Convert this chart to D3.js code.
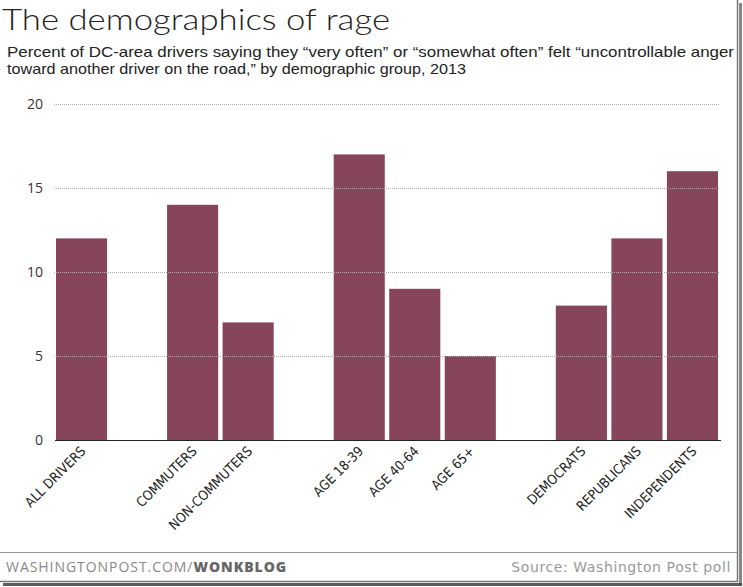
<!DOCTYPE html>
<html>
<head>
<meta charset="utf-8">
<script src="https://cdn.jsdelivr.net/npm/d3@7"></script>
<style>
  body { margin: 0; background: #fff; }
  svg { display: block; }
</style>
</head>
<body>
<svg id="chart"></svg>
<script>
// Chart data
var categories = ["ALL DRIVERS", "", "COMMUTERS", "NON-COMMUTERS", " ", "AGE 18-39", "AGE 40-64", "AGE 65+", "  ", "DEMOCRATS", "REPUBLICANS", "INDEPENDENTS"];
var values = [12, null, 14, 7, null, 17, 9, 5, null, 8, 12, 16];
var yTicks = [0, 5, 10, 15, 20];

var dimensions = {
    width: 743,
    height: 587,
    margin: { top: 104, bottom: 147, left: 56, right: 25 }
};

var svg = d3.select("#chart")
    .attr("width", dimensions.width)
    .attr("height", dimensions.height);

var data = categories.map((c, i) => ({ category: c, value: values[i] }));

var xScale = d3.scaleBand()
    .domain(categories)
    .range([dimensions.margin.left, dimensions.width - dimensions.margin.right])
    .paddingInner(0.08)
    .paddingOuter(0);

var yScale = d3.scaleLinear()
    .domain([0, 20])
    .range([dimensions.height - dimensions.margin.bottom, dimensions.margin.top]);

// Title + subtitle
svg.append("text")
    .attr("x", 2)
    .attr("y", 29.5)
    .attr("font-family", "Lato, 'Open Sans', sans-serif")
    .attr("font-weight", 300)
    .attr("font-size", 29.5)
    .attr("fill", "#222")
    .attr("textLength", 388)
    .attr("lengthAdjust", "spacingAndGlyphs")
    .text("The demographics of rage");

var subtitle = [
    "Percent of DC-area drivers saying they \u201cvery often\u201d or \u201csomewhat often\u201d felt \u201cuncontrollable anger",
    "toward another driver on the road,\u201d by demographic group, 2013"
];
var subLengths = [727, 459];
svg.selectAll(".subtitle")
    .data(subtitle)
    .enter()
    .append("text")
    .attr("class", "subtitle")
    .attr("x", 7)
    .attr("y", (d, i) => 57 + i * 17)
    .attr("font-family", "'Liberation Sans', Arial, sans-serif")
    .attr("font-size", 14.5)
    .attr("fill", "#222")
    .attr("textLength", (d, i) => subLengths[i])
    .attr("lengthAdjust", "spacingAndGlyphs")
    .text(d => d);

// Bars
svg.selectAll(".bar")
    .data(data.filter(d => d.value !== null))
    .enter()
    .append("rect")
    .attr("class", "bar")
    .attr("x", d => xScale(d.category))
    .attr("y", d => yScale(d.value))
    .attr("width", xScale.bandwidth())
    .attr("height", d => yScale(0) - yScale(d.value))
    .attr("fill", "#86455a");

// Gridlines (drawn over bars)
svg.selectAll(".grid")
    .data(yTicks.filter(t => t > 0))
    .enter()
    .append("line")
    .attr("class", "grid")
    .attr("x1", 54)
    .attr("x2", 720)
    .attr("y1", d => yScale(d) + 0.5)
    .attr("y2", d => yScale(d) + 0.5)
    .attr("stroke", "#aaa")
    .attr("stroke-width", 1)
    .attr("stroke-dasharray", "1,1");

// Baseline
svg.append("line")
    .attr("x1", 55)
    .attr("x2", 721)
    .attr("y1", yScale(0) + 0.5)
    .attr("y2", yScale(0) + 0.5)
    .attr("stroke", "#222")
    .attr("stroke-width", 1.2);

// Y tick labels
svg.selectAll(".ytick")
    .data(yTicks)
    .enter()
    .append("text")
    .attr("class", "ytick")
    .attr("x", 43)
    .attr("y", d => yScale(d) + 5)
    .attr("text-anchor", "end")
    .attr("font-family", "'Open Sans', sans-serif")
    .attr("font-size", 14)
    .attr("fill", "#333")
    .text(d => d);

// X labels, rotated
svg.selectAll(".xlabel")
    .data(data.filter(d => d.value !== null))
    .enter()
    .append("text")
    .attr("class", "xlabel")
    .attr("transform", d => `translate(${xScale(d.category) + xScale.bandwidth() / 2 + 5}, ${yScale(0) + 12}) rotate(-45)`)
    .attr("text-anchor", "end")
    .attr("font-family", "'Liberation Sans Narrow', 'DejaVu Sans Condensed', sans-serif")
    .attr("font-size", 13.5)
    .attr("fill", "#222")
    .text(d => d.category);

// Footer
svg.append("line")
    .attr("x1", 0)
    .attr("x2", 737)
    .attr("y1", 552.5)
    .attr("y2", 552.5)
    .attr("stroke", "#999")
    .attr("stroke-width", 1);

var footer = svg.append("text")
    .attr("x", 6)
    .attr("y", 572)
    .attr("font-family", "'Open Sans', sans-serif")
    .attr("font-size", 14)
    .attr("letter-spacing", 0.95)
    .attr("fill", "#888");
footer.append("tspan").text("WASHINGTONPOST.COM/");
footer.append("tspan").attr("font-weight", 800).attr("fill", "#666").text("WONKBLOG");

svg.append("text")
    .attr("x", 731)
    .attr("y", 572)
    .attr("text-anchor", "end")
    .attr("font-family", "'DejaVu Sans', sans-serif")
    .attr("font-size", 14)
    .attr("letter-spacing", 0.6)
    .attr("fill", "#999")
    .text("Source: Washington Post poll");

// Frame with shadow (right + bottom)
svg.append("line")
    .attr("x1", 737.5).attr("x2", 737.5)
    .attr("y1", 0).attr("y2", 582)
    .attr("stroke", "#777").attr("stroke-width", 1.5);
svg.append("rect")
    .attr("x", 739).attr("y", 3).attr("width", 3).attr("height", 582)
    .attr("fill", "#555").attr("opacity", 0.7);
svg.append("line")
    .attr("x1", 0).attr("x2", 738)
    .attr("y1", 581.5).attr("y2", 581.5)
    .attr("stroke", "#777").attr("stroke-width", 1.5);
svg.append("rect")
    .attr("x", 3).attr("y", 583).attr("width", 739).attr("height", 3)
    .attr("fill", "#333").attr("opacity", 0.8);
</script>
</body>
</html>
